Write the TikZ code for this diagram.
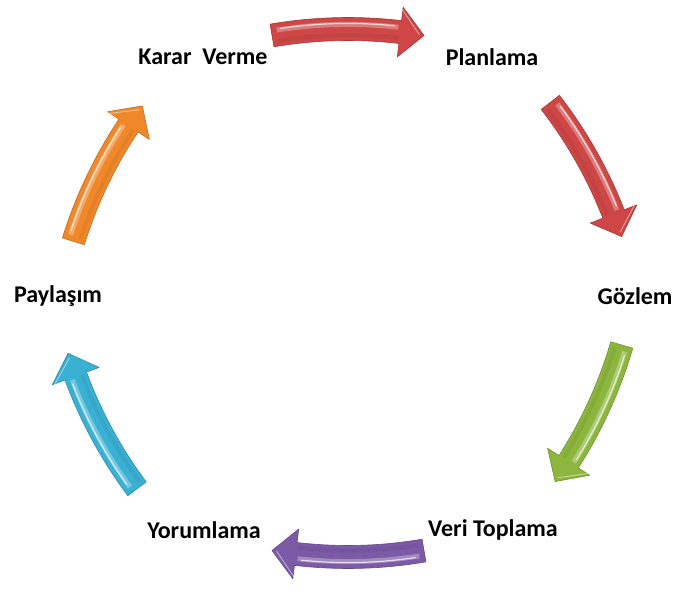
\documentclass[tikz,border=0pt]{standalone}
\usepackage{fontspec}
\setmainfont{Carlito}
\usetikzlibrary{calc}

\definecolor{cRed}{RGB}{206,70,70}
\definecolor{cGreen}{RGB}{140,182,62}
\definecolor{cPurple}{RGB}{124,90,166}
\definecolor{cCyan}{RGB}{58,176,210}
\definecolor{cOrange}{RGB}{240,136,42}

\tikzset{
  lbl/.style={font=\bfseries\fontsize{24}{28}\selectfont, text=black, inner sep=1pt},
}

% Curved block arrow: #1 centre angle, #2 distance from the centre, #3 colour, #4 name
\newcommand\cyclearrow[4]{%
  \pgfmathsetmacro\arR{450}%
  \pgfmathsetmacro\arW{11.5}%
  \pgfmathsetmacro\arH{25}%
  \pgfmathsetmacro\arPh{asin(76/\arR)}%
  \pgfmathsetmacro\arBe{24/\arR*180/pi}%
  \pgfmathsetmacro\arEa{90-\arPh+\arBe}%
  \pgfmathsetmacro\arSa{90+\arPh}%
  \pgfmathsetmacro\arTa{90-\arPh}%
  \pgfmathsetmacro\arRo{\arR+\arW}%
  \pgfmathsetmacro\arRi{\arR-\arW}%
  \pgfmathsetmacro\arRho{\arR+\arH}%
  \pgfmathsetmacro\arRhi{\arR-\arH}%
  \pgfmathsetmacro\arRl{\arR+0.4*\arW}%
  \pgfmathsetmacro\arRs{\arR-0.55*\arW}%
  \begin{scope}[shift={(O)}, rotate=#1-90]
    \begin{scope}[shift={(0pt,#2pt-\arR pt)}]
      \fill[#3, draw=#3!80!black, line width=0.6pt, line join=round]
        (\arSa:\arRo pt) arc[start angle=\arSa, end angle=\arEa, radius=\arRo pt]
        -- (\arEa:\arRho pt) -- (\arTa:\arR pt) -- (\arEa:\arRhi pt)
        -- (\arEa:\arRi pt) arc[start angle=\arEa, end angle=\arSa, radius=\arRi pt]
        -- cycle;
      \coordinate (#4) at (90:\arR pt);
      % soft shade along the inner side
      \draw[#3!75!black, opacity=0.2, line width=4pt]
        (\arSa-0.5:\arRs pt) arc[start angle=\arSa-0.5, end angle=\arEa+0.2, radius=\arRs pt];
      % glossy band along the outer side
      \draw[white, opacity=0.3, line width=5pt]
        (\arSa-0.7:\arRl pt) arc[start angle=\arSa-0.7, end angle=\arEa+0.3, radius=\arRl pt];
      \draw[white, opacity=0.7, line width=1.2pt, line cap=round]
        (\arSa-1.2:\arRl pt+1pt) arc[start angle=\arSa-1.2, end angle=\arEa+0.8, radius=\arRl pt+1pt];
      % light rim on the head
      \draw[white, opacity=0.45, line width=1pt]
        (\arEa+0.1:\arRho pt-2pt) -- (\arTa+0.6:\arR pt);
    \end{scope}
  \end{scope}}

\begin{document}
\begin{tikzpicture}[x=1pt, y=1pt]
  \useasboundingbox (0,0) rectangle (676,594);
  \coordinate (O) at (348,298);

  \cyclearrow{90}{267}{cRed}{aTop}
  \cyclearrow{28}{276}{cRed}{aUR}
  \cyclearrow{-26}{274}{cGreen}{aLR}
  \cyclearrow{-90}{261}{cPurple}{aBot}
  \cyclearrow{207}{282}{cCyan}{aLL}
  \cyclearrow{153}{276}{cOrange}{aUL}

  \node[lbl] (karar) at (203,537) {Karar\hspace{0.45em}Verme};
  \node[lbl] (plan) at (492,537) {Planlama};
  \node[lbl] (gozlem) at (635,298) {Gözlem};
  \node[lbl] (veri) at (493,64) {Veri Toplama};
  \node[lbl] (yorum) at (204,64) {Yorumlama};
  \node[lbl] (pay) at (58,298) {Paylaşım};
\end{tikzpicture}
\end{document}
